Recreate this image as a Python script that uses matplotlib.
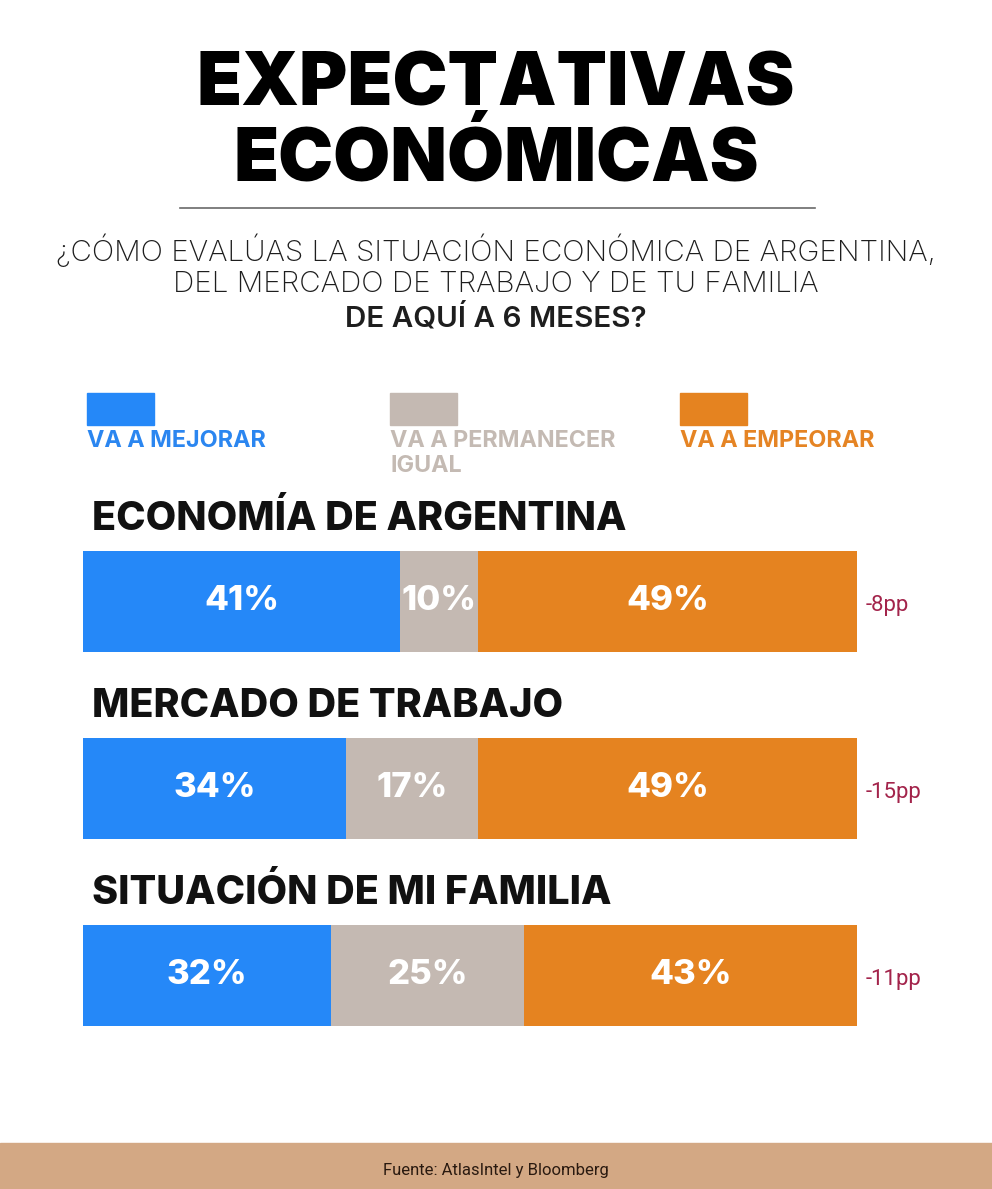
import matplotlib.pyplot as plt

# ── Data ─────────────────────────────────────────────────────────────
CATEGORIES = ["ECONOMÍA DE ARGENTINA", "MERCADO DE TRABAJO", "SITUACIÓN DE MI FAMILIA"]
MEJORAR = [41, 34, 32]
IGUAL = [10, 17, 25]
EMPEORAR = [49, 49, 43]
CHANGE_PP = ["-8pp", "-15pp", "-11pp"]

SERIES_NAMES = ["VA A MEJORAR", "VA A PERMANECER\nIGUAL", "VA A EMPEORAR"]
COLORS = ["#2588F8", "#C4B9B2", "#E58320"]
TEXT_COLORS = ["#2B86F0", "#C4BAB3", "#E58424"]

W, H = 992, 1189


def fy(y):
    return 1 - y / H


def fx(x):
    return x / W


fig = plt.figure(figsize=(W / 100, H / 100), dpi=100)
fig.patch.set_facecolor("white")

# ── Title block ──────────────────────────────────────────────────────
for txt, y in [("EXPECTATIVAS", 86), ("ECONÓMICAS", 160)]:
    fig.text(0.5, fy(y), txt, ha="center", va="center", fontsize=53,
             fontweight="black", family="Inter", color="black")

fig.add_artist(plt.Line2D([fx(180), fx(815)], [fy(208), fy(208)],
                          color="#6a6a6a", lw=1.2))

sub_kw = dict(ha="center", va="center", fontsize=21.3, family="Inter",
              color="#1e1e1e")
fig.text(0.5, fy(250), "¿CÓMO EVALÚAS LA SITUACIÓN ECONÓMICA DE ARGENTINA,",
         fontweight="light", **sub_kw)
fig.text(0.5, fy(284), "DEL MERCADO DE TRABAJO Y DE TU FAMILIA",
         fontweight="light", **sub_kw)
fig.text(0.5, fy(318), "DE AQUÍ A 6 MESES?", fontweight="semibold", **sub_kw)

# ── Legend ───────────────────────────────────────────────────────────
legend_x = [87, 390, 680]
for x, name, c, tc in zip(legend_x, SERIES_NAMES, COLORS, TEXT_COLORS):
    fig.add_artist(plt.Rectangle((fx(x), fy(425)), fx(67), 32 / H,
                                 color=c, transform=fig.transFigure))
    fig.text(fx(x), fy(430), name, ha="left", va="top", fontsize=16.8,
             fontweight="bold", family="Inter", color=tc, linespacing=1.15)

# ── Bars ─────────────────────────────────────────────────────────────
ax = fig.add_axes([fx(83), fy(1069), 774 / W, 561 / H])
ypos = list(range(len(CATEGORIES)))
left = [0] * len(CATEGORIES)
for vals, c in zip([MEJORAR, IGUAL, EMPEORAR], COLORS):
    ax.barh(ypos, vals, left=left, height=0.54, color=c, linewidth=0)
    for i, v in enumerate(vals):
        ax.text(left[i] + v / 2, i, f"{v}%", ha="center", va="center",
                fontsize=25, fontweight="heavy", family="Inter", color="white")
    left = [l + v for l, v in zip(left, vals)]

for i, cat in enumerate(CATEGORIES):
    ax.text(1.2, i - 0.44, cat, ha="left", va="center", fontsize=28.5,
            fontweight="heavy", family="Inter", color="#111111")
    ax.text(101.1, i + 0.02, CHANGE_PP[i], ha="left", va="center",
            fontsize=16, family=["Liberation Sans Narrow", "Roboto"],
            color="#A3244B", clip_on=False)

ax.set_xlim(0, 100)
ax.set_ylim(len(CATEGORIES) - 0.5, -0.5)
ax.axis("off")

# ── Footer ───────────────────────────────────────────────────────────
fig.add_artist(plt.Rectangle((0, 0), 1, 46 / H, color="#D3A884",
                             transform=fig.transFigure))
fig.text(0.5, fy(1170), "Fuente: AtlasIntel y Bloomberg", ha="center",
         va="center", fontsize=12, family=["Liberation Sans Narrow", "Roboto"],
         color="#2a1a10")

fig.savefig("out.png", dpi=100)
